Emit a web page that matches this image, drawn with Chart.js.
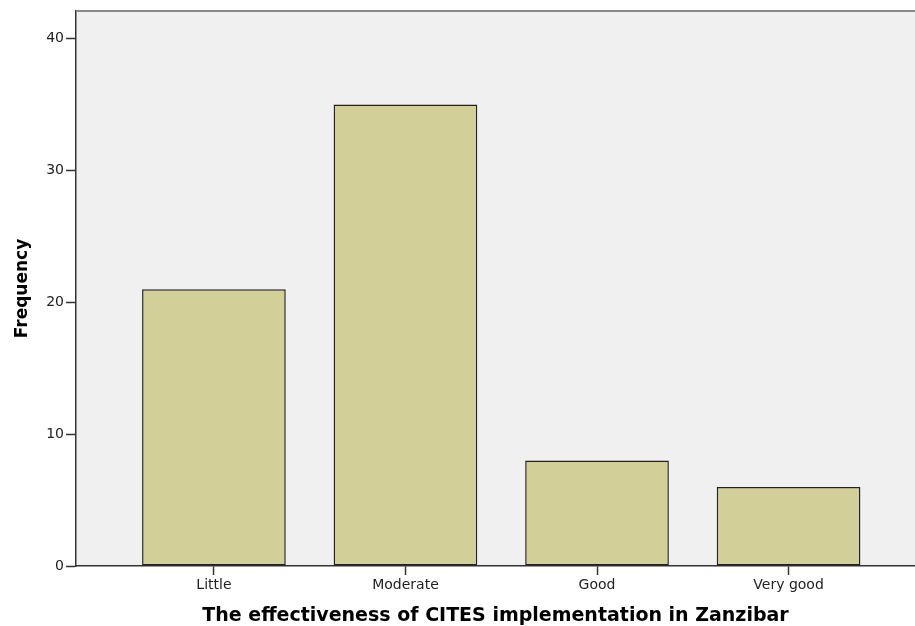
<!DOCTYPE html>
<html>
<head>
<meta charset="utf-8">
<script src="https://cdn.jsdelivr.net/npm/chart.js@4/dist/chart.umd.min.js"></script>
<style>
html,body{margin:0;padding:0;background:#fff;}
#wrap{width:915px;height:626px;position:relative;}
</style>
</head>
<body>
<div id="wrap"><canvas id="c" width="915" height="626"></canvas></div>
<script>
const categories = ["Little", "Moderate", "Good", "Very good"];
const frequencies = [21, 35, 8, 6];
const yTicks = [0, 10, 20, 30, 40];

const FONT = "'DejaVu Sans', Verdana, sans-serif";

const bgPlugin = {
  id: 'bg',
  beforeDraw(chart) {
    const {ctx, chartArea: a} = chart;
    ctx.save();
    ctx.fillStyle = '#ffffff';
    ctx.fillRect(0, 0, chart.width, chart.height);
    ctx.fillStyle = '#f0f0f0';
    ctx.fillRect(a.left, a.top, a.right - a.left, a.bottom - a.top);
    ctx.restore();
  },
  afterDraw(chart) {
    const {ctx, chartArea: a} = chart;
    ctx.save();
    ctx.strokeStyle = '#8a8a8a';
    ctx.lineWidth = 2;
    ctx.beginPath();
    ctx.moveTo(a.left, a.top);
    ctx.lineTo(a.right, a.top);
    ctx.stroke();
    ctx.restore();
  }
};

new Chart(document.getElementById('c'), {
  type: 'bar',
  data: {
    datasets: [{
      data: frequencies.map((v, i) => ({x: i, y: v})),
      backgroundColor: '#d3cf98',
      borderColor: '#222222',
      borderWidth: 1.5,
      borderSkipped: false,
      categoryPercentage: 1,
      barPercentage: 0.75
    }]
  },
  options: {
    responsive: false,
    animation: false,
    devicePixelRatio: 1,
    layout: {padding: {left: 0, top: 11, right: 0, bottom: 0}},
    plugins: {legend: {display: false}, tooltip: {enabled: false}},
    scales: {
      x: {
        type: 'linear',
        min: -0.72,
        max: 3.66,
        offset: false,
        afterBuildTicks(scale) { scale.ticks = categories.map((c, i) => ({value: i})); },
        afterFit(scale) { scale.height = 60; },
        ticks: {
          autoSkip: false,
          maxRotation: 0,
          padding: 2,
          color: '#222',
          font: {family: FONT, size: 14},
          callback: (v) => categories[v] ?? ''
        },
        grid: {offset: false, drawOnChartArea: false, drawTicks: true, tickLength: 9, color: '#333', tickColor: '#333', tickWidth: 1.5},
        border: {display: true, color: '#333', width: 1.5},
        title: {
          display: true,
          text: 'The effectiveness of CITES implementation in Zanzibar',
          color: '#000',
          font: {family: FONT, size: 19, weight: 'bold', lineHeight: 1.05},
          padding: {top: 0, bottom: 0}
        }
      },
      y: {
        min: 0,
        max: 42.1,
        afterBuildTicks(scale) { scale.ticks = yTicks.map(v => ({value: v})); },
        afterFit(scale) { scale.width = 76; },
        ticks: {
          includeBounds: false,
          padding: 2,
          color: '#222',
          font: {family: FONT, size: 14}
        },
        grid: {drawOnChartArea: false, drawTicks: true, tickLength: 10, color: '#333', tickColor: '#333', tickWidth: 1.5},
        border: {display: true, color: '#333', width: 1.5},
        title: {
          display: true,
          text: 'Frequency',
          color: '#000',
          font: {family: FONT, size: 17, weight: 'bold'},
          padding: {top: 12, bottom: 0}
        }
      }
    }
  },
  plugins: [bgPlugin]
});
</script>
</body>
</html>
